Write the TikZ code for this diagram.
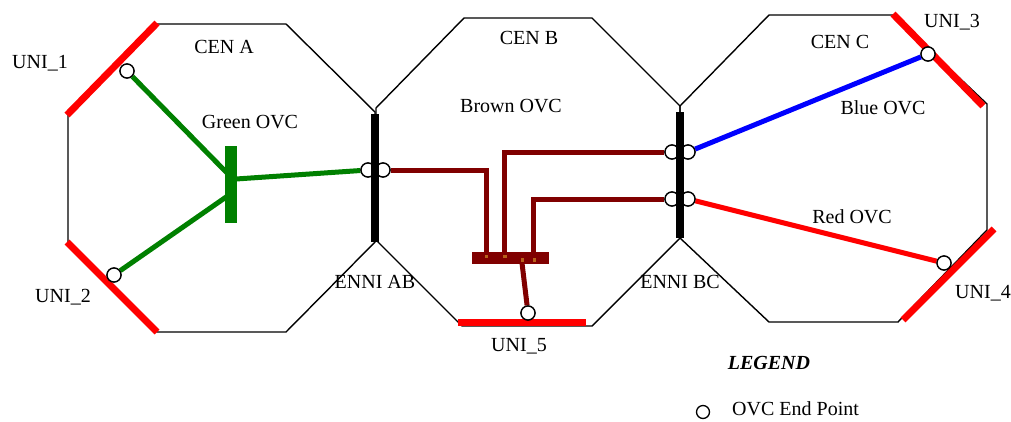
\documentclass[tikz,border=0pt]{standalone}
\usepackage{fontspec}
\setmainfont{Liberation Serif}
\usetikzlibrary{calc}
\definecolor{ovcgreen}{HTML}{008000}
\definecolor{ovcred}{HTML}{FF0000}
\definecolor{ovcblue}{HTML}{0000FF}
\definecolor{ovcbrown}{HTML}{800000}
\definecolor{dotbrown}{HTML}{B8621B}
\tikzset{
  oct/.style={draw=black, line width=1.4pt, line join=miter},
  uni/.style={draw=ovcred, line width=7pt},
  enni/.style={draw=black, line width=8pt},
  ep/.style={circle, draw=black, fill=white, line width=1.3pt, minimum size=14pt, inner sep=0pt},
  ovc/.style={line width=5pt},
  lbl/.style={font=\fontsize{20}{23}\selectfont, inner sep=0pt},
}
\begin{document}
\begin{tikzpicture}[x=1pt,y=-1pt]
\useasboundingbox (0,0) rectangle (1011,421);
% octagons
\draw[oct] (157,24) -- (286,24) -- (375,112) -- (375,242) -- (286,332) -- (157,332) -- (68,242) -- (68,113) -- cycle;
\draw[oct] (464,18) -- (592,18) -- (680,106) -- (680,238) -- (592,326) -- (462,326) -- (376,240) -- (376,108) -- cycle;
\draw[oct] (769,15) -- (893,15) -- (987,104) -- (987,230) -- (898,322) -- (769,322) -- (680,238) -- (680,106) -- cycle;
% UNI segments
\draw[uni] (67,115) -- (157,23);
\draw[uni] (67,242) -- (157,332);
\draw[uni] (458,322) -- (586,322);
\draw[uni] (893,14) -- (983,106);
\draw[uni] (903,320) -- (994,229);
% endpoints
\node[ep] (u1) at (127,71) {};
\node[ep] (u2) at (114,275) {};
\node[ep] (u3) at (928,54) {};
\node[ep] (u4) at (944,263) {};
\node[ep] (u5) at (528,313) {};
\node[ep] (eab1) at (368,170) {};
\node[ep] (eab2) at (383,170) {};
\node[ep] (ebc1a) at (672,152) {};
\node[ep] (ebc1b) at (688,152) {};
\node[ep] (ebc2a) at (672,199) {};
\node[ep] (ebc2b) at (688,199) {};
% green OVC
\node[fill=ovcgreen, minimum width=12pt, minimum height=77pt, inner sep=0pt] (gbar) at (231,184.5) {};
\coordinate (g1) at (229,175);
\coordinate (g2) at (229,195);
\coordinate (g3) at (236,179);
\draw[ovc, ovcgreen] (u1) -- (g1);
\draw[ovc, ovcgreen] (u2) -- (g2);
\draw[ovc, ovcgreen] (g3) -- (eab1);
% brown OVC
\node[fill=ovcbrown, minimum width=77pt, minimum height=12pt, inner sep=0pt] (bbar) at (510.5,258) {};
\coordinate (b1) at (486,253);
\coordinate (b2) at (504,253);
\coordinate (b3) at (533,253);
\coordinate (b4) at (522,263);
\draw[ovc, ovcbrown, line join=miter] (eab2) -| (b1);
\draw[ovc, ovcbrown, line join=miter] (ebc1a) -| (b2);
\draw[ovc, ovcbrown, line join=miter] (ebc2a) -| (b3);
\draw[ovc, ovcbrown] (b4) -- (u5);
\fill[dotbrown] (484.5,254.5) rectangle ++(3.5,3.5);
\fill[dotbrown] (503,254.5) rectangle ++(4,3.5);
\fill[dotbrown] (520.5,258) rectangle ++(3.5,3.5);
\fill[dotbrown] (532.5,258) rectangle ++(3.5,3.5);
% blue and red OVC
\draw[ovc, ovcblue] (ebc1b) -- (u3);
\draw[ovc, ovcred] (ebc2b) -- (u4);
% redraw endpoints on top
\foreach \n in {u1,u2,u3,u4,u5,eab1,eab2,ebc1a,ebc1b,ebc2a,ebc2b}{
  \draw[line width=1.3pt, fill=white] (\n) circle (7pt);
}
% ENNI bars
\draw[enni] (375,114) -- (375,242);
\draw[enni] (680,112) -- (680,238);
% labels
\node[lbl] (tuni1) at (40,63) {UNI\_1};
\node[lbl] (tcena) at (224,47) {CEN A};
\node[lbl] (tgreen) at (250,122) {Green OVC};
\node[lbl] (tuni2) at (63,297) {UNI\_2};
\node[lbl] (tennab) at (375,282) {ENNI AB};
\node[lbl] (tcenb) at (529,38) {CEN B};
\node[lbl] (tbrown) at (511,106) {Brown OVC};
\node[lbl] (tuni5) at (519,346) {UNI\_5};
\node[lbl] (tennbc) at (680,282) {ENNI BC};
\node[lbl] (tcenc) at (840,42) {CEN C};
\node[lbl] (tuni3) at (952,22) {UNI\_3};
\node[lbl] (tblue) at (883,108) {Blue OVC};
\node[lbl] (tred) at (852,217) {Red OVC};
\node[lbl] (tuni4) at (983,293) {UNI\_4};
\node[lbl, font=\fontsize{20}{23}\selectfont\bfseries\itshape] (tlegend) at (769,363) {LEGEND};
\node[ep, minimum size=13pt] (legc) at (703,412) {};
\node[lbl, anchor=west] (tlegc) at (732,409) {OVC End Point};
\end{tikzpicture}
\end{document}
